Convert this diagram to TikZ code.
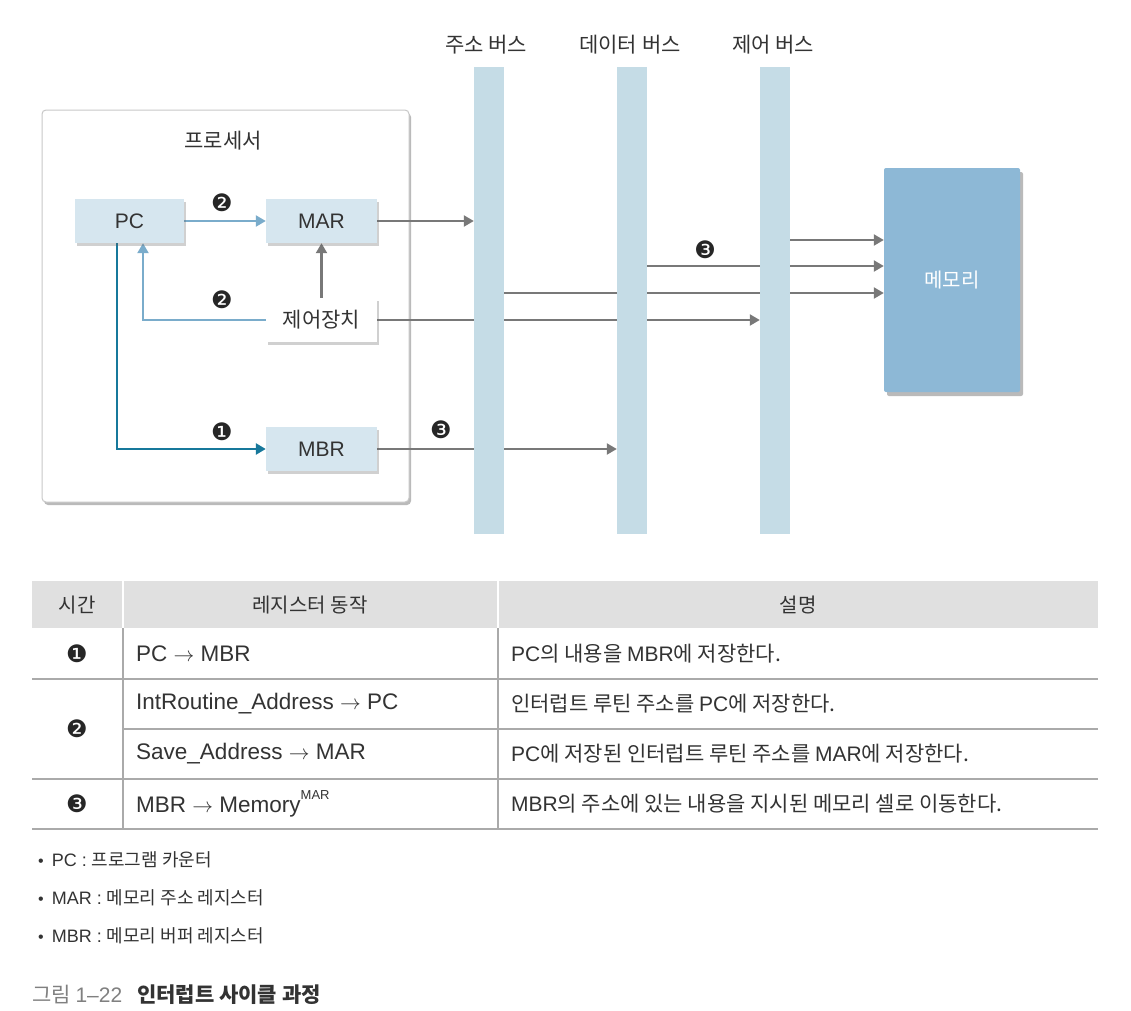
\documentclass[tikz,border=0pt]{standalone}
\usepackage{fontspec}
\setmainfont{Liberation Sans}
\newfontfamily\kr{Noto Sans CJK KR}
\newfontfamily\dingfont{DejaVu Sans}
\usetikzlibrary{arrows.meta,shadows}
\pgfdeclarelayer{bg}
\pgfdeclarelayer{lines}
\pgfsetlayers{bg,lines,main}
\definecolor{regfill}{HTML}{D6E6EF}
\definecolor{busc}{HTML}{C5DCE6}
\definecolor{memc}{HTML}{8DB8D6}
\definecolor{lblue}{HTML}{7AACCB}
\definecolor{teal}{HTML}{17789B}
\definecolor{agray}{HTML}{787878}
\definecolor{hdr}{HTML}{E0E0E0}
\definecolor{tline}{HTML}{AAAAAA}
\definecolor{pborder}{HTML}{C8C8C8}
\definecolor{txt}{HTML}{333333}
\definecolor{capgray}{HTML}{808080}
\newcommand{\arr}{\ensuremath{\rightarrow}}
\tikzset{
  lbl/.style={inner sep=0pt, text=txt, font=\kr\fontsize{21}{24}\selectfont},
  cell/.style={inner sep=0pt, text=txt, font=\fontsize{21}{24}\selectfont},
  opcell/.style={inner sep=0pt, text=txt, font=\fontsize{22.5}{24}\selectfont, anchor=west},
  note/.style={inner sep=0pt, text=txt, font=\fontsize{18}{20}\selectfont, anchor=west},
  num/.style={inner sep=0pt, text=black!85, font=\dingfont\fontsize{24}{26}\selectfont},
  shad/.style={drop shadow={shadow xshift=2pt, shadow yshift=-3pt, opacity=0.3, fill=black!60}},
  regbox/.style={rectangle, fill=regfill, minimum width=109pt, minimum height=44pt, inner sep=0pt, text=txt, font=\fontsize{21}{24}\selectfont, shad},
  ctrlbox/.style={regbox, fill=white},
  bus/.style={rectangle, fill=busc, minimum width=30pt, minimum height=467pt, inner sep=0pt},
  garrow/.style={draw=agray, line width=2.2pt, -{Triangle[length=10pt,width=11pt]}},
  larrow/.style={draw=lblue, line width=2.2pt, -{Triangle[length=10pt,width=11pt]}},
  tarrow/.style={draw=teal, line width=2.6pt, -{Triangle[length=10pt,width=11pt]}},
}
\begin{document}
\begin{tikzpicture}[x=1pt,y=-1pt]
\useasboundingbox (0,0) rectangle (1131,1010);
% processor frame
\begin{pgfonlayer}{bg}
\fill[white] (0,0) rectangle (1131,1010);
\node[rectangle, draw=pborder, line width=1pt, fill=white, rounded corners=4pt, minimum width=367pt, minimum height=392pt,
  drop shadow={shadow xshift=2pt, shadow yshift=-3pt, opacity=0.45, fill=black!60}] (proc) at (225.5,306) {};
\end{pgfonlayer}
\node[lbl] (proclbl) at (223,141) {프로세서};
% registers
\node[regbox] (pc) at (129.5,221) {PC};
\node[regbox, minimum width=111pt] (mar) at (321.5,221) {MAR};
\node[ctrlbox, minimum width=111pt, font=\kr\fontsize{21}{24}\selectfont] (ctrl) at (321.5,320) {제어장치};
\node[regbox, minimum width=111pt] (mbr) at (321.5,449) {MBR};
% buses
\node[bus] (abus) at (489,300.5) {};
\node[bus] (dbus) at (632,300.5) {};
\node[bus] (cbus) at (775,300.5) {};
\node[lbl] (abusl) at (486,45) {주소 버스};
\node[lbl] (dbusl) at (630,45) {데이터 버스};
\node[lbl] (cbusl) at (773,45) {제어 버스};
% memory
\node[rectangle, fill=memc, rounded corners=2pt, minimum width=136pt, minimum height=224pt, inner sep=0pt, text=white, font=\kr\fontsize{20}{24}\selectfont,
  drop shadow={shadow xshift=3pt, shadow yshift=-4pt, opacity=0.45, fill=black!60}] (mem) at (952,280) {메모리};
\coordinate (m1) at ([yshift=40pt]mem.west);
\coordinate (m2) at ([yshift=14pt]mem.west);
\coordinate (m3) at ([yshift=-13pt]mem.west);
% connectors
\begin{pgfonlayer}{lines}
\draw[larrow] (pc.east) -- (mar.west);
\draw[garrow] (mar.east) -- (mar.east -| abus.west);
\draw[garrow] (ctrl.north) -- (mar.south);
\draw[larrow] (ctrl.west) -| ([xshift=13.5pt]pc.south);
\draw[tarrow] ([xshift=-12.5pt]pc.south) |- (mbr.west);
\draw[garrow] (mbr.east) -- (mbr.east -| dbus.west);
\draw[garrow] (ctrl.east) -- (ctrl.east -| cbus.west);
\draw[garrow] (cbus.east |- m1) -- (m1);
\draw[garrow] (dbus.east |- m2) -- (m2);
\draw[garrow] (abus.east |- m3) -- (m3);
\end{pgfonlayer}
\node[num] (n2a) at (222,203) {❷};
\node[num] (n2b) at (222,300) {❷};
\node[num] (n1) at (222,432) {❶};
\node[num] (n3a) at (441,430) {❸};
\node[num] (n3b) at (705,250) {❸};
% table
\fill[hdr] (32,581) rectangle (1098,628);
\draw[white, line width=1.5pt] (123,581) -- (123,628) (498,581) -- (498,628);
\draw[tline, line width=1.2pt] (32,679) -- (1098,679) (123,729) -- (1098,729) (32,779) -- (1098,779) (32,829) -- (1098,829)
  (123,628) -- (123,829) (498,628) -- (498,829);
\node[cell, font=\kr\fontsize{20}{24}\selectfont] (h1) at (77,605) {시간};
\node[cell, font=\kr\fontsize{20}{24}\selectfont] (h2) at (310,605) {레지스터 동작};
\node[cell, font=\kr\fontsize{20}{24}\selectfont] (h3) at (798,605) {설명};
\node[num] (t1) at (77,654) {❶};
\node[num] (t2) at (77,729) {❷};
\node[num] (t3) at (77,804) {❸};
\node[opcell] (r1a) at (136,654) {PC \arr\ MBR};
\node[opcell] (r2a) at (136,704) {IntRoutine\_Address \arr\ PC};
\node[opcell] (r3a) at (136,754) {Save\_Address \arr\ MAR};
\node[opcell] (r4a) at (136,804) {MBR \arr\ Memory\raisebox{0.55em}{\fontsize{13}{14}\selectfont MAR}};
\node[cell, anchor=west] (r1b) at (511,654) {PC{\kr 의 내용을 }MBR{\kr 에 저장한다.}};
\node[cell, anchor=west] (r2b) at (511,704) {{\kr 인터럽트 루틴 주소를 }PC{\kr 에 저장한다.}};
\node[cell, anchor=west] (r3b) at (511,754) {PC{\kr 에 저장된 인터럽트 루틴 주소를 }MAR{\kr 에 저장한다.}};
\node[cell, anchor=west] (r4b) at (511,804) {MBR{\kr 의 주소에 있는 내용을 지시된 메모리 셀로 이동한다.}};
% notes
\node[note] (b1) at (38,860) {{\fontsize{16}{16}\selectfont\textbullet}\hspace{8pt}PC : {\kr 프로그램 카운터}};
\node[note] (b2) at (38,898) {{\fontsize{16}{16}\selectfont\textbullet}\hspace{8pt}MAR : {\kr 메모리 주소 레지스터}};
\node[note] (b3) at (38,936) {{\fontsize{16}{16}\selectfont\textbullet}\hspace{8pt}MBR : {\kr 메모리 버퍼 레지스터}};
\node[inner sep=0pt, anchor=west, font=\fontsize{21}{24}\selectfont] (cap) at (32,995) {\textcolor{capgray}{{\kr 그림 }1–22}\hspace{15pt}\textcolor{txt}{\kr\bfseries 인터럽트 사이클 과정}};
\end{tikzpicture}
\end{document}
